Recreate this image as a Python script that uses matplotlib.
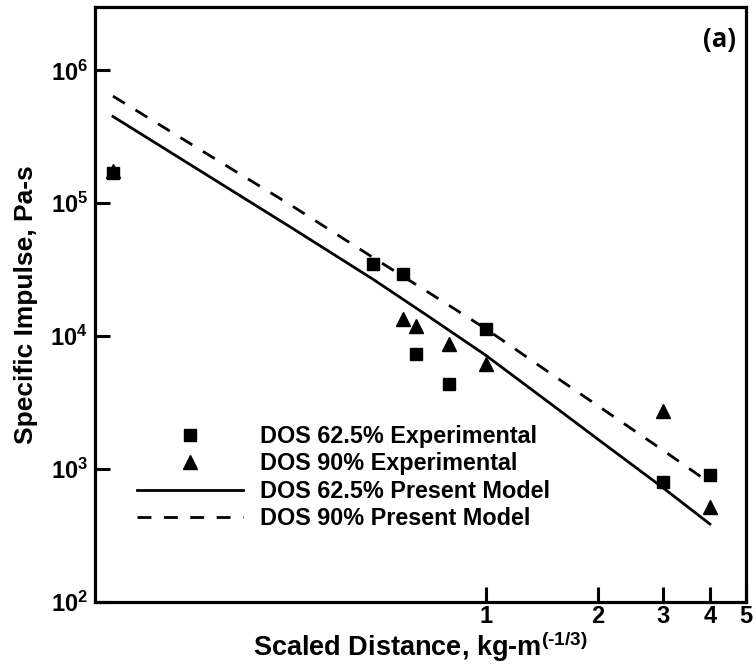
import matplotlib
matplotlib.use("Agg")
import matplotlib.pyplot as plt

plt.rcParams['font.family'] = ['Liberation Sans', 'DejaVu Sans']
plt.rcParams['font.weight'] = 'bold'
plt.rcParams['axes.unicode_minus'] = False
plt.rcParams['mathtext.fontset'] = 'custom'
plt.rcParams['mathtext.rm'] = 'Liberation Sans:bold'
plt.rcParams['mathtext.bf'] = 'Liberation Sans:bold'
plt.rcParams['mathtext.it'] = 'Liberation Sans:bold'

## experimental points
sq_x = [0.1, 0.5, 0.6, 0.65, 0.8, 1.0, 3.0, 4.0]
sq_y = [1.68e5, 3.48e4, 2.93e4, 7.3e3, 4.4e3, 1.13e4, 800, 900]
tri_x = [0.1, 0.6, 0.65, 0.8, 1.0, 3.0, 4.0]
tri_y = [1.75e5, 1.34e4, 1.19e4, 8.7e3, 6.2e3, 2.73e3, 518]

## model curves
model_x = [0.1, 0.2, 0.3, 0.5, 0.7, 1.0, 1.5, 2.0, 3.0, 4.0]
model_625 = [4.5e5, 1.34e5, 6.6e4, 2.67e4, 1.42e4, 7.2e3, 3.08e3, 1.68e3, 720, 386]
model_90 = [6.4e5, 1.94e5, 9.7e4, 3.89e4, 2.15e4, 1.14e4, 5.2e3, 3.0e3, 1.38e3, 785]

x_ticks = [1, 2, 3, 4, 5]
y_ticks = [1e2, 1e3, 1e4, 1e5, 1e6]
y_labels = ["$10^{2}$", "$10^{3}$", "$10^{4}$", "$10^{5}$", "$10^{6}$"]

fig = plt.figure(figsize=(7.56, 6.70), dpi=100)
ax = fig.add_axes([0.1257, 0.1015, 0.8611, 0.8881])

ax.plot(sq_x, sq_y, 's', color='black', markersize=9, linestyle='none',
        label='DOS 62.5% Experimental', zorder=4)
ax.plot(tri_x, tri_y, '^', color='black', markersize=10, linestyle='none',
        label='DOS 90% Experimental', zorder=3)
ax.plot(model_x, model_625, '-', color='black', linewidth=2.0,
        label='DOS 62.5% Present Model', zorder=2)
ax.plot(model_x, model_90, '--', color='black', linewidth=2.0, dashes=(5, 4.5),
        label='DOS 90% Present Model', zorder=2)

ax.set_xscale('log')
ax.set_yscale('log')
ax.set_xlim(0.0895, 5)
ax.set_ylim(100, 3e6)

ax.xaxis.set_minor_locator(matplotlib.ticker.NullLocator())
ax.yaxis.set_minor_locator(matplotlib.ticker.NullLocator())
ax.set_xticks(x_ticks)
ax.set_xticklabels([str(t) for t in x_ticks])
ax.set_yticks(y_ticks)
ax.set_yticklabels(y_labels)
ax.tick_params(axis='both', which='major', direction='in', length=11,
               width=2.2, labelsize=17)
ax.tick_params(axis='x', pad=2)
ax.tick_params(axis='y', pad=5)
for lab in ax.get_xticklabels() + ax.get_yticklabels():
    lab.set_fontweight('bold')

for sp in ax.spines.values():
    sp.set_linewidth(2.3)

ax.set_xlabel(r'Scaled Distance, kg-m$^{(\text{-}1/3)}$', fontsize=19.5,
              fontweight='bold', labelpad=1)
ax.set_ylabel('Specific Impulse, Pa-s', fontsize=19, fontweight='bold', labelpad=9)

ax.text(0.985, 0.968, '(a)', transform=ax.transAxes, ha='right', va='top',
        fontsize=18.5, fontweight='bold', family=['Open Sans', 'DejaVu Sans'])

leg = ax.legend(loc='upper left', bbox_to_anchor=(0.0645, 0.297), frameon=False,
                fontsize=16.8, handlelength=4.55, handletextpad=0.73,
                labelspacing=0.18, numpoints=1, borderaxespad=0, borderpad=0)
for t in leg.get_texts():
    t.set_fontweight('bold')

fig.savefig('out.png', dpi=100)
